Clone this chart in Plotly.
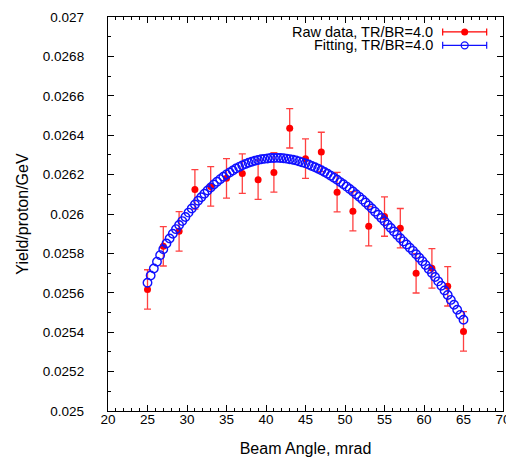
import plotly.graph_objects as go

# ---- data ----
raw_angle = [25, 27, 29, 31, 33, 35, 37, 39, 41, 43, 45, 47, 49, 51, 53, 55, 57, 59, 61, 63, 65]
raw_yield = [0.025617, 0.025836, 0.025912, 0.026125, 0.026140, 0.026181, 0.026205, 0.026174,
             0.026211, 0.026435, 0.026281, 0.026315, 0.026111, 0.026014, 0.025938, 0.025987,
             0.025928, 0.025699, 0.025724, 0.025633, 0.025404]
raw_err = [0.0001] * 21

fit_angle = [25.0, 25.4, 25.8, 26.2, 26.6, 27.0, 27.4, 27.8, 28.2, 28.6,
             29.0, 29.4, 29.8, 30.2, 30.6, 31.0, 31.4, 31.8, 32.2, 32.6,
             33.0, 33.4, 33.8, 34.2, 34.6, 35.0, 35.4, 35.8, 36.2, 36.6,
             37.0, 37.4, 37.8, 38.2, 38.6, 39.0, 39.4, 39.8, 40.2, 40.6,
             41.0, 41.4, 41.8, 42.2, 42.6, 43.0, 43.4, 43.8, 44.2, 44.6,
             45.0, 45.4, 45.8, 46.2, 46.6, 47.0, 47.4, 47.8, 48.2, 48.6,
             49.0, 49.4, 49.8, 50.2, 50.6, 51.0, 51.4, 51.8, 52.2, 52.6,
             53.0, 53.4, 53.8, 54.2, 54.6, 55.0, 55.4, 55.8, 56.2, 56.6,
             57.0, 57.4, 57.8, 58.2, 58.6, 59.0, 59.4, 59.8, 60.2, 60.6,
             61.0, 61.4, 61.8, 62.2, 62.6, 63.0, 63.4, 63.8, 64.2, 64.6,
             65.0]
fit_yield_e6 = [25651, 25688, 25723, 25758, 25791, 25821, 25850, 25876, 25900, 25923,
                25944, 25964, 25985, 26007, 26028, 26048, 26067, 26085, 26103, 26119,
                26135, 26150, 26164, 26177, 26189, 26201, 26211, 26221, 26231, 26239,
                26247, 26254, 26260, 26265, 26270, 26274, 26278, 26280, 26282, 26284,
                26284, 26285, 26284, 26283, 26281, 26278, 26275, 26272, 26267, 26262,
                26257, 26251, 26244, 26237, 26230, 26222, 26213, 26204, 26194, 26184,
                26174, 26162, 26151, 26139, 26127, 26114, 26100, 26087, 26073, 26058,
                26043, 26028, 26012, 25996, 25980, 25963, 25946, 25929, 25911, 25894,
                25877, 25861, 25845, 25829, 25813, 25796, 25778, 25760, 25741, 25721,
                25701, 25680, 25658, 25636, 25612, 25589, 25564, 25539, 25514, 25488,
                25463]
fit_yield = [v * 1e-6 for v in fit_yield_e6]

y_tickvals = [0.025, 0.0252, 0.0254, 0.0256, 0.0258, 0.026, 0.0262, 0.0264, 0.0266, 0.0268, 0.027]
y_ticktext = ["0.025", "0.0252", "0.0254", "0.0256", "0.0258", "0.026", "0.0262",
              "0.0264", "0.0266", "0.0268", "0.027"]
x_tickvals = [20, 25, 30, 35, 40, 45, 50, 55, 60, 65, 70]

legend_labels = ["Raw data, TR/BR=4.0", "Fitting, TR/BR=4.0"]

RED = "#ff0000"
BLUE = "#1010ff"
FONT = "Liberation Sans, Arial, Helvetica, sans-serif"

fig = go.Figure()

fig.add_trace(go.Scatter(
    x=raw_angle, y=raw_yield, mode="markers",
    marker=dict(color=RED, size=7, symbol="circle"),
    error_y=dict(type="data", array=raw_err, visible=True, color="rgba(255,30,30,0.85)",
                 thickness=1.3, width=3.5),
    showlegend=False,
))
fig.add_trace(go.Scatter(
    x=fit_angle, y=fit_yield, mode="markers",
    marker=dict(color=BLUE, size=8.5, symbol="circle-open", line=dict(width=1.4, color=BLUE)),
    showlegend=False,
))

# manual legend (text left of the sample, as in the reference)
leg_x = 0.903
leg_half = 0.0557
leg_rows = [0.962, 0.928]
fig.add_trace(go.Scatter(
    x=[leg_x], y=[leg_rows[0]], xaxis="x2", yaxis="y2", mode="markers",
    marker=dict(color=RED, size=7),
    error_x=dict(type="constant", value=leg_half, color=RED, thickness=1.2, width=3.5),
    showlegend=False, hoverinfo="skip",
))
fig.add_trace(go.Scatter(
    x=[leg_x], y=[leg_rows[1]], xaxis="x2", yaxis="y2", mode="markers",
    marker=dict(color=BLUE, size=7, symbol="circle-open", line=dict(width=1.3, color=BLUE)),
    error_x=dict(type="constant", value=leg_half, color=BLUE, thickness=1.2, width=3.5),
    showlegend=False, hoverinfo="skip",
))
for lab, yy in zip(legend_labels, leg_rows):
    fig.add_annotation(x=0.825, y=yy, xref="x2", yref="y2", text=lab, showarrow=False,
                       xanchor="right", yanchor="middle", borderpad=0,
                       font=dict(family=FONT, size=14.5, color="black"))

axis_common = dict(
    showline=True, linecolor="black", linewidth=1.3, mirror="ticks",
    ticks="inside", ticklen=6, tickwidth=1, tickcolor="black",
    showgrid=False, zeroline=False, automargin=False,
    tickfont=dict(family=FONT, size=13.5, color="black"),
)

# the page body adds an 8px offset, so the figure is sized to fit the 514x457 window
fig.update_layout(
    width=506, height=449,
    margin=dict(l=100, r=11, t=9, b=46),
    paper_bgcolor="white", plot_bgcolor="white",
    font=dict(family=FONT, color="black"),
    xaxis=dict(range=[20, 70], tickvals=x_tickvals,
               minor=dict(dtick=1, ticks="inside", ticklen=3, tickcolor="black", showgrid=False),
               title=dict(text="Beam Angle, mrad", font=dict(family=FONT, size=16), standoff=16),
               ticklabelstandoff=-4,
               **axis_common),
    yaxis=dict(range=[0.025, 0.027], tickvals=y_tickvals, ticktext=y_ticktext,
               minor=dict(dtick=0.0001, tick0=0.025, ticks="inside", ticklen=3, tickcolor="black",
                          showgrid=False),
               title=dict(text="Yield/proton/GeV", font=dict(family=FONT, size=16), standoff=10),
               ticklabelstandoff=20,
               **axis_common),
    xaxis2=dict(range=[0, 1], overlaying="x", anchor="y2", visible=False, fixedrange=True),
    yaxis2=dict(range=[0, 1], overlaying="y", anchor="x2", visible=False, fixedrange=True),
)

fig.write_html("out.html")
